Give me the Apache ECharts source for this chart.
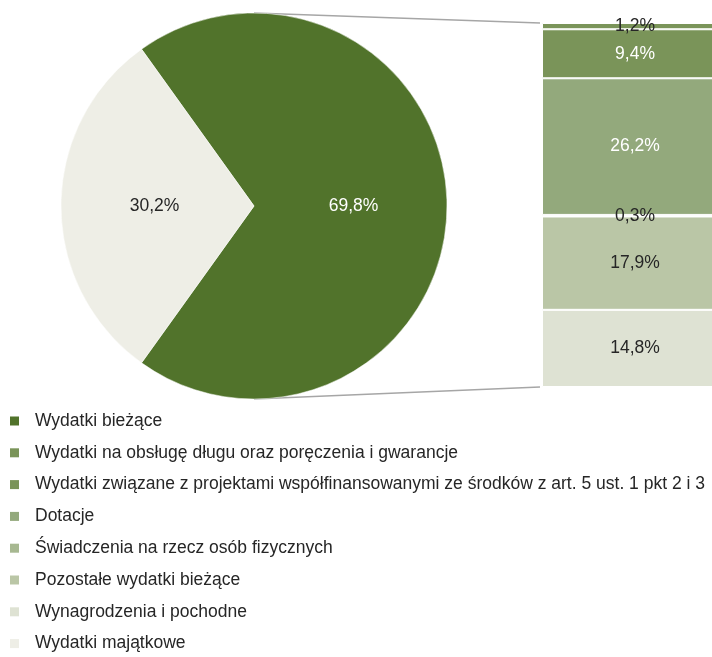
<!DOCTYPE html>
<html>
<head>
<meta charset="utf-8">
<script src="https://cdn.jsdelivr.net/npm/echarts@6/dist/echarts.min.js"></script>
<style>
  html, body { margin: 0; padding: 0; background: #ffffff; }
  #chart { width: 712px; height: 657px; }
</style>
</head>
<body>
<div id="chart"></div>
<script>
// Main split of expenditure (pie)
const pieNames = ['Wydatki bieżące', 'Wydatki majątkowe'];
const pieValues = [69.8, 30.2];

// Breakdown of current expenditure (stacked column, top to bottom)
const barNames = [
  'Wydatki na obsługę długu oraz poręczenia i gwarancje',
  'Wydatki związane z projektami współfinansowanymi ze środków z art. 5 ust. 1 pkt 2 i 3',
  'Dotacje',
  'Świadczenia na rzecz osób fizycznych',
  'Pozostałe wydatki bieżące',
  'Wynagrodzenia i pochodne'
];
const barValues = [1.2, 9.4, 26.2, 0.3, 17.9, 14.8];

const pieColors = ['#51732b', '#eeeee6'];
const pieLabelColors = ['#ffffff', '#262626'];
const barColors = ['#7a9459', '#7a9459', '#93a97c', '#a7b891', '#bac6a6', '#dee2d3'];
const barLabelColors = ['#262626', '#ffffff', '#ffffff', '#262626', '#262626', '#262626'];

const FONT = '"Liberation Sans", Arial, sans-serif';
const FONT_SIZE = 17.5;
const pieCenter = [254, 206];
const pieRadius = 193;
const barBox = { left: 542, top: 23, width: 186, height: 364 };

const fmt = v => v.toFixed(1).replace('.', ',') + '%';
const barTotal = barValues.reduce((a, b) => a + b, 0);

// Rotate the pie so the smaller slice sits centred on the left
const smallShare = pieValues[1] / (pieValues[0] + pieValues[1]);
const startAngle = 180 - smallShare * 360 / 2;

const chart = echarts.init(document.getElementById('chart'), null, { renderer: 'canvas' });

const series = [{
  type: 'pie',
  center: pieCenter,
  radius: pieRadius,
  startAngle: startAngle,
  clockwise: true,
  silent: true,
  itemStyle: { borderColor: '#ffffff', borderWidth: 0.5 },
  label: {
    position: 'inside',
    fontFamily: FONT,
    fontSize: FONT_SIZE,
    formatter: p => fmt(p.value)
  },
  labelLine: { show: false },
  data: pieNames.map((n, i) => ({
    name: n,
    value: pieValues[i],
    itemStyle: { color: pieColors[i] },
    label: { color: pieLabelColors[i] }
  }))
}];

barNames.forEach((n, i) => {
  series.push({
    type: 'bar',
    name: n,
    stack: 'current',
    barWidth: '100%',
    silent: true,
    itemStyle: { color: barColors[i], borderColor: '#ffffff', borderWidth: 1 },
    label: {
      show: true,
      position: 'inside',
      fontFamily: FONT,
      fontSize: FONT_SIZE,
      color: barLabelColors[i],
      formatter: p => fmt(p.value)
    },
    data: [barValues[i]]
  });
});

const legendOrder = [pieNames[0]].concat(barNames, [pieNames[1]]);

chart.setOption({
  animation: false,
  color: [pieColors[0]].concat(barColors, [pieColors[1]]),
  grid: {
    left: barBox.left, top: barBox.top, width: barBox.width, height: barBox.height,
    outerBoundsMode: 'none'
  },
  xAxis: { type: 'category', data: ['bieżące'], show: false },
  yAxis: { type: 'value', min: 0, max: barTotal, inverse: true, show: false },
  legend: {
    orient: 'vertical',
    left: 10,
    top: 411,
    height: 320,
    padding: 0,
    icon: 'rect',
    itemWidth: 9,
    itemHeight: 9,
    itemGap: 11.8,
    selectedMode: false,
    itemStyle: { borderWidth: 0 },
    textStyle: { fontFamily: FONT, fontSize: FONT_SIZE, color: '#262626', lineHeight: 20, padding: [0, 0, 0, 11] },
    data: legendOrder
  },
  series: series
});

// Connector lines from the pie's top and bottom to the column's corners
const topLeft = chart.convertToPixel({ gridIndex: 0 }, [0, 0]);
const botLeft = chart.convertToPixel({ gridIndex: 0 }, [0, barTotal]);
const colLeft = barBox.left - 2;
chart.setOption({
  graphic: [
    {
      type: 'line', silent: true,
      shape: { x1: pieCenter[0], y1: pieCenter[1] - pieRadius, x2: colLeft, y2: topLeft[1] },
      style: { stroke: '#a6a6a6', lineWidth: 1.5 }
    },
    {
      type: 'line', silent: true,
      shape: { x1: pieCenter[0], y1: pieCenter[1] + pieRadius, x2: colLeft, y2: botLeft[1] },
      style: { stroke: '#a6a6a6', lineWidth: 1.5 }
    }
  ]
});
</script>
</body>
</html>
